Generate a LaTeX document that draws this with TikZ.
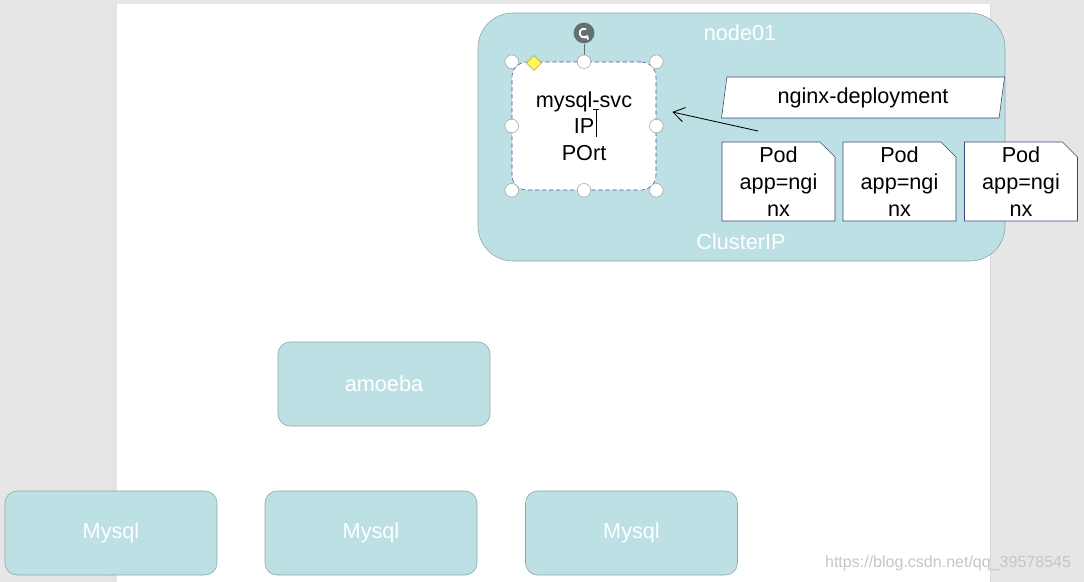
\documentclass[tikz,border=0pt]{standalone}
\usepackage{fontspec}
\setmainfont{Liberation Sans}
\usetikzlibrary{shapes.geometric,shapes.misc,arrows.meta}
\definecolor{clustercol}{RGB}{188,224,227}
\definecolor{edgecol}{RGB}{140,165,168}
\definecolor{selcol}{RGB}{70,80,140}
\definecolor{podcol}{RGB}{60,70,120}
\definecolor{paper}{RGB}{230,230,230}
\definecolor{rotcol}{RGB}{100,112,114}
\tikzset{
  lbl/.style={font=\fontsize{15.4}{19}\selectfont},
  tealbox/.style={draw=edgecol, fill=clustercol, rounded corners=3mm, text=white, lbl,
    minimum width=53mm, minimum height=21mm, inner sep=0},
  podbox/.style={chamfered rectangle, chamfered rectangle corners=north east,
    chamfered rectangle xsep=2.5mm, draw=podcol, fill=white, align=center, lbl,
    minimum width=28.25mm, minimum height=18.25mm, inner sep=0},
  handle/.style={circle, draw=gray!70, fill=white, minimum size=3.4mm, inner sep=0}
}
\begin{document}
\begin{tikzpicture}[x=0.25mm, y=-0.25mm]
\useasboundingbox (0,0) rectangle (1084,582);
% editor background and page
\fill[paper] (0,0) rectangle (1084,582);
\fill[gray!22] (111,4) rectangle (117,582);
\fill[white] (117,4) rectangle (990,582);
\draw[gray!30] (990,4) -- (990,582);

% Cluster
\node[draw=edgecol, fill=clustercol, rounded corners=8.75mm, minimum width=131.75mm, minimum height=62mm] (cluster) at (741.5,137) {};
\node[lbl, text=white] (node01) at (740,33) {node01};
\node[lbl, text=white] (clusterip) at (741,242) {ClusterIP};

% Service (selected)
\node[draw=selcol, densely dashed, fill=white, rounded corners=3.75mm, minimum width=36mm, minimum height=32mm, align=center, lbl] (svc) at (584,126) {mysql-svc\\IP\\POrt};
\draw[line width=0.5pt] (593,109) -- (599,109) (596,109) -- (596,137);
\node[circle, fill=rotcol, minimum size=5.2mm, inner sep=0] (rot) at (584,33) {};
\draw[rotcol] (rot) -- (svc.north);
\draw[white, line width=0.45mm, -{Straight Barb[length=0.6mm]}] (rot.center) ++(60:1.1mm) arc (60:330:1.1mm);
\foreach \a in {north west, north, north east, east, south east, south, south west, west}
  \node[handle] at (svc.\a) {};
\node[diamond, fill=yellow!65, draw=olive!70, minimum size=3.8mm, inner sep=0] (adj) at (534,63) {};

% Deployment
\node[trapezium, trapezium left angle=75, trapezium right angle=105, trapezium stretches body, draw=podcol, fill=white, minimum width=70.75mm, minimum height=10.25mm, inner sep=0, lbl] (dep) at (863,97.5) {nginx-deployment};

% Pods
\node[podbox] (pod1) at (778.5,181.5) {Pod\\app=ngi\\nx};
\node[podbox] (pod2) at (899.5,181.5) {Pod\\app=ngi\\nx};
\node[podbox] (pod3) at (1021,181.5) {Pod\\app=ngi\\nx};

% selector arrow
\coordinate (sel) at (758,131);
\draw[line width=0.6pt, -{Straight Barb[length=2.8mm, width=3.6mm]}] (sel) -- ([xshift=4mm, yshift=3.5mm]svc.east);

% amoeba and Mysql
\node[tealbox] (amoeba) at (384,384) {amoeba};
\node[tealbox] (mysql1) at (111,533) {Mysql};
\node[tealbox] (mysql2) at (371,533) {Mysql};
\node[tealbox] (mysql3) at (631.5,533) {Mysql};

\node[font=\fontsize{11.4}{12}\selectfont, text=gray!45, anchor=east] (mark) at (1076,563) {https://blog.csdn.net/qq\_39578545};
\end{tikzpicture}
\end{document}
